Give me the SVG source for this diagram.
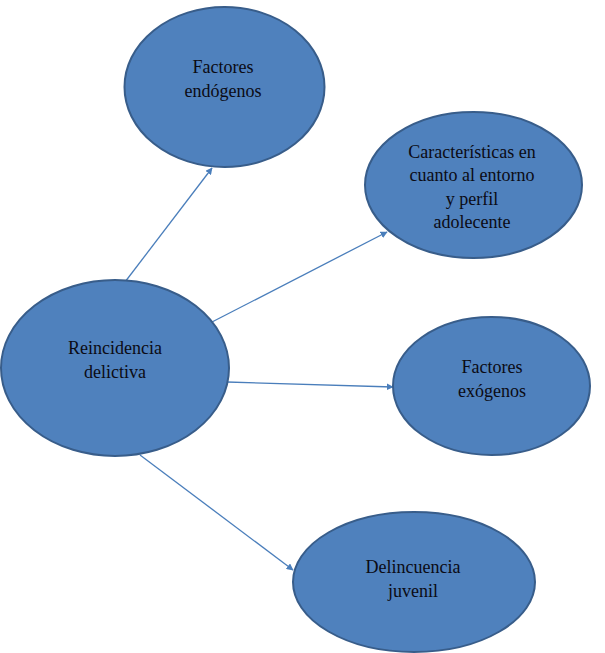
<svg xmlns="http://www.w3.org/2000/svg" width="605" height="653" viewBox="0 0 605 653">
<style>
.node{fill:#4F81BD;stroke:#385D8A;stroke-width:2}
.lbl{font-family:'Liberation Serif','DejaVu Serif',serif;font-size:18px;fill:#0b0b14;text-anchor:middle}
.edge{stroke:#4A7EBB;stroke-width:1.3;fill:none;marker-end:url(#ah)}
</style>
<defs>
<marker id="ah" viewBox="0 0 10 10" refX="9" refY="5" markerWidth="7" markerHeight="7" markerUnits="userSpaceOnUse" orient="auto">
<path d="M0,0 L10,5 L0,10 z" fill="#4A7EBB"/>
</marker>
</defs>
<rect width="605" height="653" fill="#ffffff"/>
<g id="connectors">
<line class="edge" x1="125" y1="282" x2="212" y2="168"/>
<line class="edge" x1="212" y1="322" x2="387" y2="232"/>
<line class="edge" x1="227" y1="382" x2="393" y2="387"/>
<line class="edge" x1="140" y1="455" x2="293" y2="570"/>
</g>
<g id="endogenos">
<ellipse class="node" cx="224.5" cy="87" rx="100" ry="80"/>
<text class="lbl" x="223" y="73">Factores</text>
<text class="lbl" x="223" y="97">endógenos</text>
</g>
<g id="caracteristicas">
<ellipse class="node" cx="473.5" cy="185" rx="108.5" ry="73"/>
<text class="lbl" x="472" y="158">Características en</text>
<text class="lbl" x="472" y="181">cuanto al entorno</text>
<text class="lbl" x="472" y="205">y perfil</text>
<text class="lbl" x="472" y="228">adolecente</text>
</g>
<g id="reincidencia">
<ellipse class="node" cx="115" cy="368" rx="114" ry="88"/>
<text class="lbl" x="115" y="354">Reincidencia</text>
<text class="lbl" x="115" y="378">delictiva</text>
</g>
<g id="exogenos">
<ellipse class="node" cx="491.5" cy="386" rx="98.5" ry="69"/>
<text class="lbl" x="492" y="373">Factores</text>
<text class="lbl" x="492" y="397">exógenos</text>
</g>
<g id="delincuencia">
<ellipse class="node" cx="414" cy="582" rx="121" ry="70"/>
<text class="lbl" x="413" y="573">Delincuencia</text>
<text class="lbl" x="413" y="597">juvenil</text>
</g>
</svg>
